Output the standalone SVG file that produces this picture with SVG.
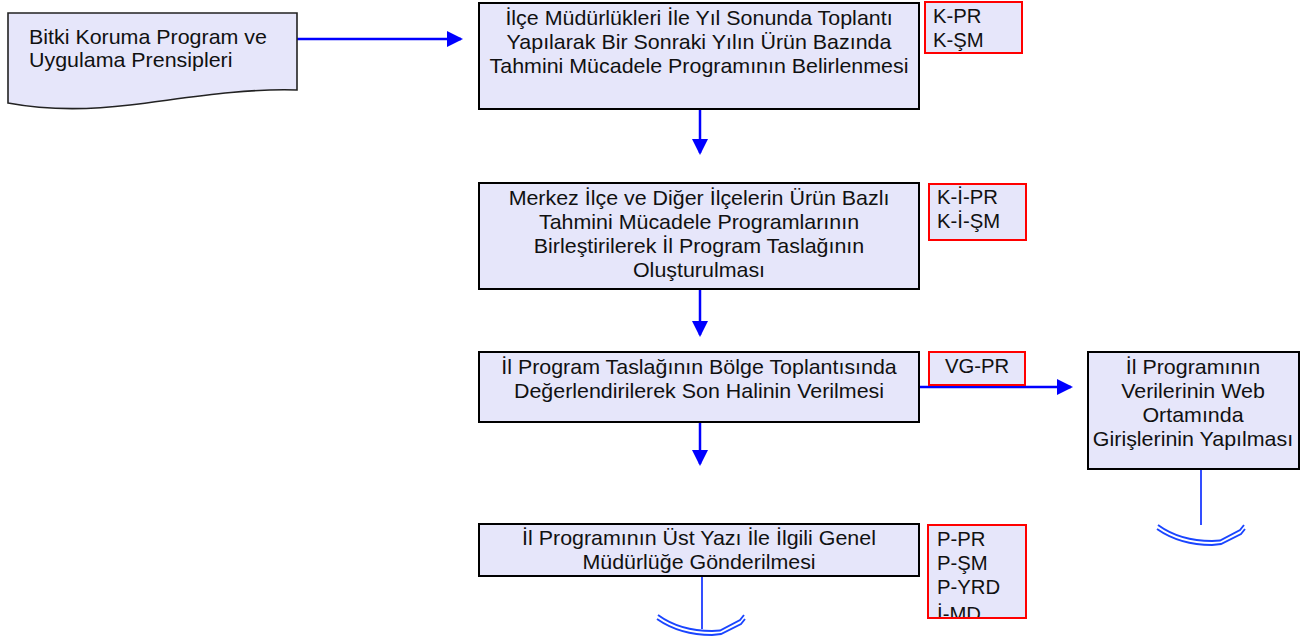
<svg xmlns="http://www.w3.org/2000/svg" width="1311" height="644" viewBox="0 0 1311 644">
<style>
.box{fill:#E6E6FA;stroke:#000;stroke-width:2}
.tag{fill:#E6E6FA;stroke:#FF0000;stroke-width:2}
.doc{fill:#E6E6FA;stroke:#222;stroke-width:1.6}
.t{font-family:"Liberation Sans",Arial,sans-serif;font-size:20.5px;fill:#111}
.c{text-anchor:middle}
.l{font-family:"Liberation Sans",Arial,sans-serif;font-size:19.5px;fill:#111}
.arr{stroke:#0000FF;stroke-width:2.5;fill:none}
.thin{stroke:#1030FF;stroke-width:1.7;fill:none}
.arc{stroke:#1a45ff;stroke-width:1.9;fill:none}
</style>
<defs>
<marker id="ah" viewBox="0 0 16 16" refX="14" refY="8" markerWidth="16" markerHeight="16" markerUnits="userSpaceOnUse" orient="auto">
<path d="M0,0 L16,8 L0,16 z" fill="#0000FF"/>
</marker>
<clipPath id="clip5"><rect x="929" y="526" width="96" height="91"/></clipPath>
</defs>
<rect width="1311" height="644" fill="#fff"/>

<g id="connectors">
<path class="arr" d="M297,39 H461" marker-end="url(#ah)"/>
<path class="arr" d="M700,109 V153" marker-end="url(#ah)"/>
<path class="arr" d="M700,289 V335" marker-end="url(#ah)"/>
<path class="arr" d="M700,422 V464" marker-end="url(#ah)"/>
<path class="arr" d="M919,387 H1071" marker-end="url(#ah)"/>
<path class="thin" d="M1201,469 V525"/>
<path class="thin" d="M702,576 V629"/>
</g>

<g id="offpage1">
<path class="arc" d="M1158,525 Q1180,541 1212,541 L1220,540.5 L1240,530 L1244,525"/>
<path class="arc" d="M1157,529 Q1180,545 1212,545 L1221,544 L1241,534 L1245,529"/>
</g>
<g id="offpage2">
<path class="arc" d="M658,615 Q680,631 712,631 L720,630.5 L740,620 L744,615"/>
<path class="arc" d="M657,619 Q680,635 712,635 L721,634 L741,624 L745,619"/>
</g>

<g id="start">
<path class="doc" d="M8,13 H297 V90 C240,88 175,100 130,105 C80,111 40,109 8,103 Z"/>
<g transform="translate(29,0) scale(1.045,1)">
<text class="t" x="0" y="44">Bitki Koruma Program ve</text>
<text class="t" x="0" y="67">Uygulama Prensipleri</text>
</g>
</g>

<g id="box1">
<rect class="box" x="479" y="3" width="440" height="106"/>
<g transform="translate(699,0) scale(1.045,1)">
<text class="t c" x="0" y="25">İlçe Müdürlükleri İle Yıl Sonunda Toplantı</text>
<text class="t c" x="0" y="49">Yapılarak Bir Sonraki Yılın Ürün Bazında</text>
<text class="t c" x="0" y="73">Tahmini Mücadele Programının Belirlenmesi</text>
</g>
</g>
<g id="tag1">
<rect class="tag" x="925" y="2" width="97" height="51"/>
<g transform="translate(933,0) scale(1.04,1)">
<text class="l" x="0" y="23">K-PR</text>
<text class="l" x="0" y="47">K-ŞM</text>
</g>
</g>

<g id="box2">
<rect class="box" x="479" y="183" width="440" height="106"/>
<g transform="translate(699,0) scale(1.045,1)">
<text class="t c" x="0" y="205">Merkez İlçe ve Diğer İlçelerin Ürün Bazlı</text>
<text class="t c" x="0" y="229">Tahmini Mücadele Programlarının</text>
<text class="t c" x="0" y="253">Birleştirilerek İl Program Taslağının</text>
<text class="t c" x="0" y="277">Oluşturulması</text>
</g>
</g>
<g id="tag2">
<rect class="tag" x="929" y="184" width="97" height="56"/>
<g transform="translate(937,0) scale(1.04,1)">
<text class="l" x="0" y="204">K-İ-PR</text>
<text class="l" x="0" y="228">K-İ-ŞM</text>
</g>
</g>

<g id="box3">
<rect class="box" x="479" y="352" width="440" height="70"/>
<g transform="translate(699,0) scale(1.045,1)">
<text class="t c" x="0" y="374">İl Program Taslağının Bölge Toplantısında</text>
<text class="t c" x="0" y="398">Değerlendirilerek Son Halinin Verilmesi</text>
</g>
</g>
<g id="tag3">
<rect class="tag" x="929" y="352" width="96" height="33"/>
<g transform="translate(977,0) scale(1.04,1)">
<text class="l c" x="0" y="373">VG-PR</text>
</g>
</g>

<g id="box4">
<rect class="box" x="1088" y="352" width="211" height="117"/>
<g transform="translate(1193,0) scale(1.045,1)">
<text class="t c" x="0" y="374">İl Programının</text>
<text class="t c" x="0" y="398">Verilerinin Web</text>
<text class="t c" x="0" y="422">Ortamında</text>
<text class="t c" x="0" y="446">Girişlerinin Yapılması</text>
</g>
</g>

<g id="box5">
<rect class="box" x="479" y="524" width="440" height="52"/>
<g transform="translate(699,0) scale(1.045,1)">
<text class="t c" x="0" y="545">İl Programının Üst Yazı İle İlgili Genel</text>
<text class="t c" x="0" y="569">Müdürlüğe Gönderilmesi</text>
</g>
</g>
<g id="tag5">
<rect class="tag" x="928" y="525" width="98" height="93"/>
<g clip-path="url(#clip5)">
<g transform="translate(937,0) scale(1.04,1)">
<text class="l" x="0" y="546">P-PR</text>
<text class="l" x="0" y="570">P-ŞM</text>
<text class="l" x="0" y="594">P-YRD</text>
<text class="l" x="0" y="621">İ-MD.</text>
</g>
</g>
<rect x="928" y="525" width="98" height="93" fill="none" stroke="#FF0000" stroke-width="2"/>
</g>
</svg>
